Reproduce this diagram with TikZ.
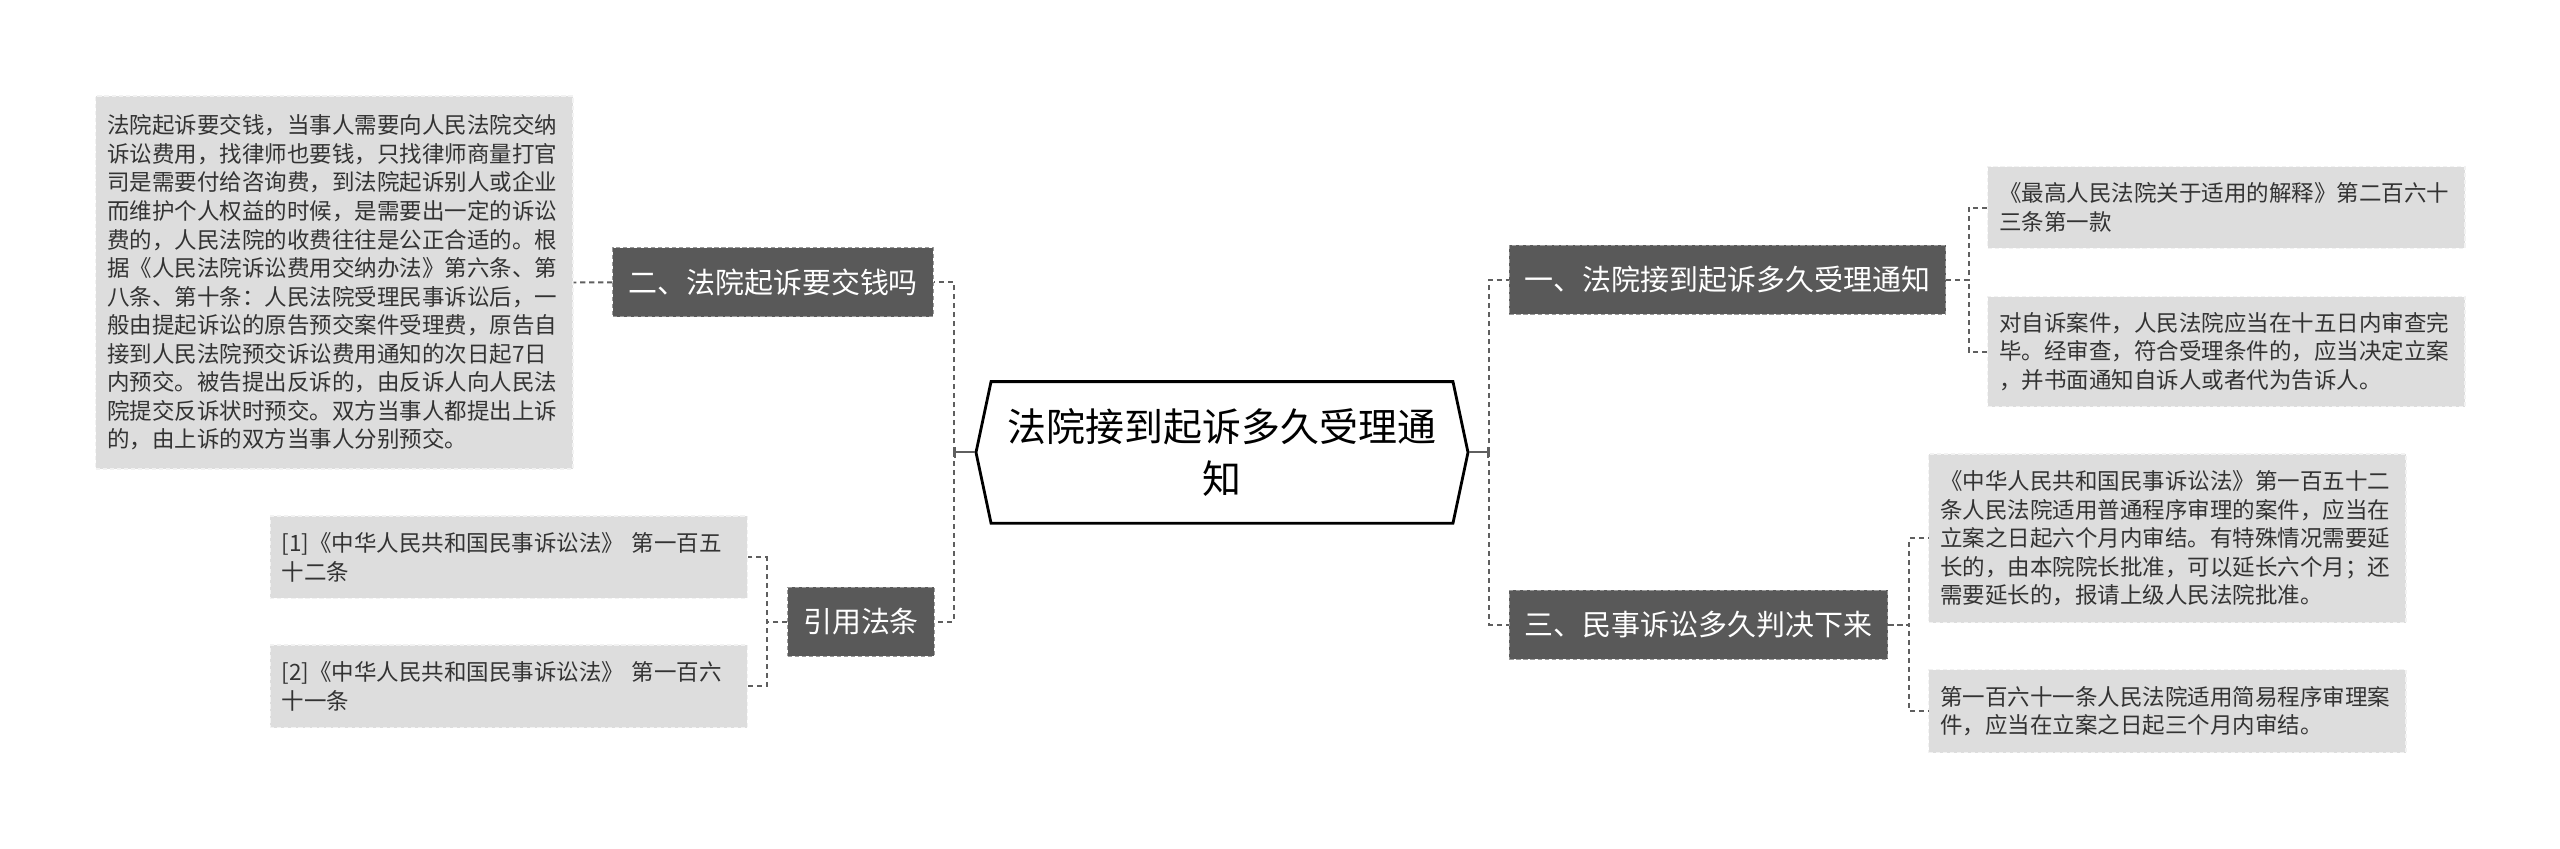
\documentclass[tikz,border=0pt]{standalone}
\usepackage{fontspec}
\setmainfont{Noto Sans CJK SC}
\usepackage{xcolor}
\usepackage{tikz}
\usetikzlibrary{positioning,arrows.meta,shapes.symbols}

\definecolor{linkgray}{HTML}{5F5F5F}
\definecolor{branchfill}{HTML}{595959}
\definecolor{branchline}{HTML}{9A9A9A}
\definecolor{leaffill}{HTML}{DDDDDD}
\definecolor{leafline}{HTML}{F2F2F2}
\definecolor{leaftext}{HTML}{333333}

\begin{document}
\begin{tikzpicture}[
  % Root hexagon
  topic/.style={
    signal,
    signal to=west and east,
    signal pointer angle=156,
    draw=black,
    line width=2pt,
    fill=white,
    minimum width=12.3cm,
    minimum height=3.54cm,
    align=center,
    font=\fontsize{27.7}{36.7}\selectfont
  },
  % Dark branch boxes
  branch/.style={
    rectangle,
    draw=branchline,
    dashed,
    dash pattern=on 3pt off 2pt,
    line width=0.8pt,
    fill=branchfill,
    text=white,
    inner xsep=0.3875cm,
    minimum height=1.725cm,
    font=\fontsize{20.6}{24}\selectfont
  },
  % Light detail boxes
  leaf/.style={
    rectangle,
    draw=leafline,
    dash pattern=on 3pt off 2pt,
    line width=0.8pt,
    fill=leaffill,
    text=leaftext,
    text width=11.35cm,
    inner xsep=0.29cm,
    align=left,
    font=\fontsize{16}{20.3}\selectfont
  },
  % Connectors
  link/.style={
    draw=linkgray,
    line width=1.4pt,
    dash pattern=on 3.6pt off 2.8pt
  },
  stub/.style={
    draw=linkgray,
    line width=1.4pt,
    -{Bar[width=0.28cm]}
  }
]

\fill[white] (0,0) rectangle (64,-21.225);
\useasboundingbox (0,0) rectangle (64,-21.225);

% === NODES ===
\node[topic] (root) at (30.55,-11.31) {法院接到起诉多久受理通\\知};

\node[branch, anchor=west] (notice) at (37.72,-6.99) {一、法院接到起诉多久受理通知};
\node[branch, anchor=west] (verdict) at (37.72,-15.62) {三、民事诉讼多久判决下来};
\node[branch, anchor=east] (fee) at (23.35,-7.06) {二、法院起诉要交钱吗};
\node[branch, anchor=east] (cite) at (23.375,-15.54) {引用法条};

\node[leaf, minimum height=2.04cm] (notice1) at (55.66,-5.19) {《最高人民法院关于适用的解释》第二百六十\\
三条第一款};
\node[leaf, minimum height=2.75cm] (notice2) at (55.66,-8.79) {对自诉案件，人民法院应当在十五日内审查完\\
毕。经审查，符合受理条件的，应当决定立案\\
，并书面通知自诉人或者代为告诉人。};

\node[leaf, minimum height=4.22cm] (verdict1) at (54.185,-13.46) {《中华人民共和国民事诉讼法》第一百五十二\\
条人民法院适用普通程序审理的案件，应当在\\
立案之日起六个月内审结。有特殊情况需要延\\
长的，由本院院长批准，可以延长六个月；还\\
需要延长的，报请上级人民法院批准。};
\node[leaf, minimum height=2.07cm] (verdict2) at (54.185,-17.78) {第一百六十一条人民法院适用简易程序审理案\\
件，应当在立案之日起三个月内审结。};

\node[leaf, minimum height=9.325cm] (feeinfo) at (8.359,-7.0625) {法院起诉要交钱，当事人需要向人民法院交纳\\
诉讼费用，找律师也要钱，只找律师商量打官\\
司是需要付给咨询费，到法院起诉别人或企业\\
而维护个人权益的时候，是需要出一定的诉讼\\
费的，人民法院的收费往往是公正合适的。根\\
据《人民法院诉讼费用交纳办法》第六条、第\\
八条、第十条：人民法院受理民事诉讼后，一\\
般由提起诉讼的原告预交案件受理费，原告自\\
接到人民法院预交诉讼费用通知的次日起7日\\
内预交。被告提出反诉的，由反诉人向人民法\\
院提交反诉状时预交。双方当事人都提出上诉\\
的，由上诉的双方当事人分别预交。};

\node[leaf, minimum height=2.06cm] (cite1) at (12.72,-13.93) {[1]《中华人民共和国民事诉讼法》 第一百五\\
十二条};
\node[leaf, minimum height=2.07cm] (cite2) at (12.72,-17.16) {[2]《中华人民共和国民事诉讼法》 第一百六\\
十一条};

% === CONNECTORS ===
\draw[stub] (root.west) -- ++(-0.525,0);
\draw[stub] (root.east) -- ++(0.5,0);
\draw[link] ([xshift=-0.525cm]root.west) |- (fee.east);
\draw[link] ([xshift=-0.525cm]root.west) |- (cite.east);
\draw[link] ([xshift=0.5cm]root.east) |- (notice.west);
\draw[link] ([xshift=0.5cm]root.east) |- (verdict.west);

\draw[link] (notice.east) -- ++(0.56,0) |- (notice1.west);
\draw[link] (notice.east) -- ++(0.56,0) |- (notice2.west);
\draw[link] (verdict.east) -- ++(0.52,0) |- (verdict1.west);
\draw[link] (verdict.east) -- ++(0.52,0) |- (verdict2.west);

\draw[link] (fee.west) -- (feeinfo.east);
\draw[link] (cite.west) -- ++(-0.51,0) |- (cite1.east);
\draw[link] (cite.west) -- ++(-0.51,0) |- (cite2.east);

\end{tikzpicture}
\end{document}
